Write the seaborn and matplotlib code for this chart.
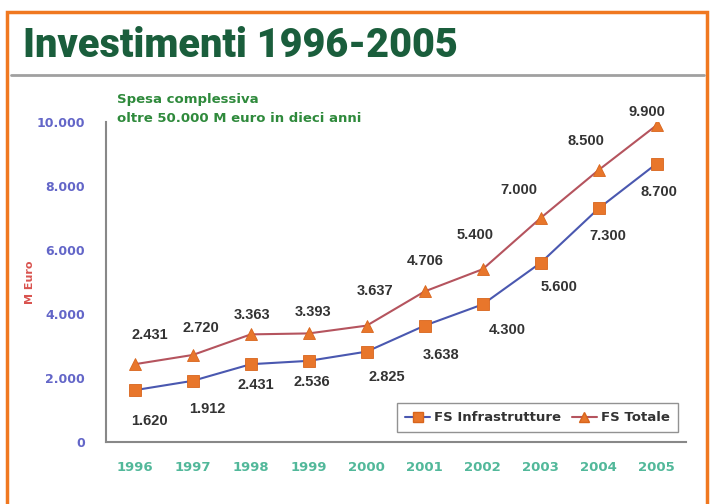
import numpy as np
import pandas as pd
import matplotlib
matplotlib.use("Agg")
import matplotlib.pyplot as plt
import seaborn as sns
from matplotlib.patches import Rectangle
from matplotlib.lines import Line2D

# dati (milioni di euro)
anni = ["1996", "1997", "1998", "1999", "2000", "2001", "2002", "2003", "2004", "2005"]
fs_infrastrutture = [1620, 1912, 2431, 2536, 2825, 3638, 4300, 5600, 7300, 8700]
fs_totale = [2431, 2720, 3363, 3393, 3637, 4706, 5400, 7000, 8500, 9900]
etichette_infra = ["1.620", "1.912", "2.431", "2.536", "2.825", "3.638", "4.300", "5.600", "7.300", "8.700"]
etichette_totale = ["2.431", "2.720", "3.363", "3.393", "3.637", "4.706", "5.400", "7.000", "8.500", "9.900"]
tick_y = [0, 2000, 4000, 6000, 8000, 10000]
tick_y_lab = ["0", "2.000", "4.000", "6.000", "8.000", "10.000"]

# spostamenti delle etichette (pixel)
off_infra = [(15, -31), (15, -28), (5, -21), (3, -21), (20, -25),
             (16, -29), (25, -26), (18, -24), (9, -28), (2, -28)]
off_totale = [(15, 29), (8, 27), (1, 19), (4, 21), (8, 35),
              (0, 30), (-8, 34), (-22, 28), (-13, 29), (-10, 13)]

df = pd.DataFrame({
    "anno": anni * 2,
    "valore": fs_infrastrutture + fs_totale,
    "serie": ["FS Infrastrutture"] * len(anni) + ["FS Totale"] * len(anni),
})

sns.set_style("white")
plt.rcParams["font.family"] = ["DejaVu Sans"]

arancio = "#e8762b"
blu = "#4a58b0"
rosso = "#b5545e"

fig = plt.figure(figsize=(7.15, 5.04), dpi=100)
ax = fig.add_axes([0.148, 0.123, 0.811, 0.635])

sns.lineplot(data=df[df.serie == "FS Infrastrutture"], x="anno", y="valore",
             color=blu, lw=1.5, marker="s", markersize=8.5, markerfacecolor=arancio,
             markeredgecolor="#d8651c", markeredgewidth=0.6, ax=ax, sort=False)
sns.lineplot(data=df[df.serie == "FS Totale"], x="anno", y="valore",
             color=rosso, lw=1.5, marker="^", markersize=8.5, markerfacecolor=arancio,
             markeredgecolor="#d8651c", markeredgewidth=0.6, ax=ax, sort=False)

for i in range(len(anni)):
    ax.annotate(etichette_infra[i], (i, fs_infrastrutture[i]), xytext=off_infra[i],
                textcoords="offset pixels", ha="center", va="center",
                fontsize=10.5, fontweight="bold", color="#333333",
                family=["Liberation Sans", "DejaVu Sans"])
    ax.annotate(etichette_totale[i], (i, fs_totale[i]), xytext=off_totale[i],
                textcoords="offset pixels", ha="center", va="center",
                fontsize=10.5, fontweight="bold", color="#333333",
                family=["Liberation Sans", "DejaVu Sans"])

ax.set_xlim(-0.5, len(anni) - 0.5)
ax.set_ylim(0, 10000)
ax.set_yticks(tick_y)
ax.set_yticklabels(tick_y_lab, color="#6366c8", fontsize=9, fontweight="bold")
ax.set_xticks(np.arange(-0.5, len(anni), 1.0))
ax.set_xticklabels([])
ax.set_xticks(range(len(anni)), minor=True)
ax.set_xticklabels(anni, minor=True, color="#52b89a", fontsize=9.5, fontweight="bold")
ax.tick_params(axis="x", which="major", direction="inout", length=6, color="#888888", width=1)
ax.tick_params(axis="x", which="minor", length=0, pad=14)
ax.tick_params(axis="y", direction="out", length=5, color="#888888", width=1, pad=10)
ax.set_xlabel("")
ax.set_ylabel("M Euro", color="#d9534f", fontsize=8, fontweight="bold")
ax.yaxis.set_label_coords(-0.122, 0.5)
for s in ["top", "right"]:
    ax.spines[s].set_visible(False)
for s in ["left", "bottom"]:
    ax.spines[s].set_color("#888888")
    ax.spines[s].set_linewidth(1.5)

ax.text(0.02, 1.069, "Spesa complessiva", transform=ax.transAxes,
        color="#2f8a3c", fontsize=9.5, fontweight="bold", va="center")
ax.text(0.02, 1.01, "oltre 50.000 M euro in dieci anni", transform=ax.transAxes,
        color="#2f8a3c", fontsize=9.5, fontweight="bold", va="center")

handles = [
    Line2D([], [], color=blu, lw=1.5, marker="s", markersize=7.5,
           markerfacecolor=arancio, markeredgecolor="#d8651c"),
    Line2D([], [], color=rosso, lw=1.5, marker="^", markersize=7.5,
           markerfacecolor=arancio, markeredgecolor="#d8651c"),
]
leg = ax.legend(handles, ["FS Infrastrutture", "FS Totale"], ncol=2,
                loc="lower right", bbox_to_anchor=(0.986, 0.031), borderaxespad=0,
                frameon=True, fancybox=False, handlelength=1.9, handletextpad=0.3,
                columnspacing=0.8, borderpad=0.6,
                prop={"size": 9.5, "weight": "bold"})
leg.get_frame().set_edgecolor("#777777")
leg.get_frame().set_linewidth(1)
for t in leg.get_texts():
    t.set_color("#333333")

# titolo e cornice
fig.text(0.032, 0.91, "Investimenti 1996-2005", color="#1a5e3c", fontsize=28.5,
         fontweight="heavy", family=["Roboto", "DejaVu Sans"], va="center")
fig.add_artist(Line2D([0.015, 0.985], [0.852, 0.852], color="#a0a0a0", lw=2,
                      transform=fig.transFigure))
fig.add_artist(Rectangle((0.0098, -0.02), 0.979, 0.996, fill=False,
                         edgecolor="#f07820", lw=2.5, transform=fig.transFigure))

fig.savefig("out.png", dpi=100)
